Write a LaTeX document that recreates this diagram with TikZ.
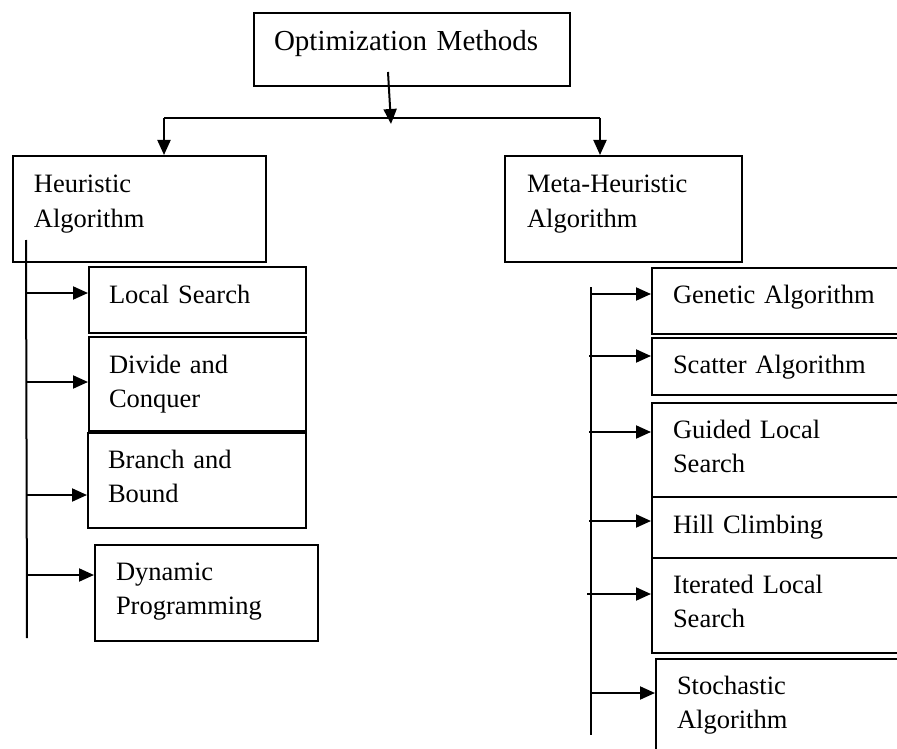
\documentclass[tikz,border=0pt]{standalone}
\usepackage{fontspec}
\setmainfont{Liberation Serif}
\usetikzlibrary{arrows.meta}
\begin{document}
\begin{tikzpicture}[x=1pt,y=-1pt,
  every node/.style={font=\fontsize{26.5}{34.5}\selectfont},
  box/.style={draw,line width=2pt,anchor=north west,inner ysep=0pt,align=left},
  ln/.style={line width=2pt},
  arr/.style={line width=2pt,-{Triangle[length=15pt,width=13pt]}}]
\path[use as bounding box,clip] (0,0) rectangle (897,749);
\fill[white] (0,0) rectangle (897,749);
% top
\node[box,inner xsep=20pt,text width=276pt,text height=38pt,text depth=35pt,
  font=\fontsize{29}{34}\selectfont] (top) at (253,12) {Optimization Methods};
% level 1
\node[box,inner xsep=21pt,text width=211pt,text height=37pt,text depth=69pt] (heur) at (12,155) {Heuristic\\Algorithm};
\node[box,inner xsep=22pt,text width=193pt,text height=37pt,text depth=69pt] (meta) at (504,155) {Meta-Heuristic\\Algorithm};
% left children
\node[box,inner xsep=20pt,text width=177pt,text height=36pt,text depth=30pt] (ls) at (88,266) {Local Search};
\node[box,inner xsep=20pt,text width=177pt,text height=36pt,text depth=58pt] (dc) at (88,336) {Divide and\\Conquer};
\node[box,inner xsep=20pt,text width=178pt,text height=35pt,text depth=60pt] (bb) at (87,432) {Branch and\\Bound};
\node[box,inner xsep=21pt,text width=181pt,text height=35pt,text depth=61pt] (dp) at (94,544) {Dynamic\\Programming};
% right children
\node[box,inner xsep=21pt,text width=267pt,text height=35pt,text depth=31pt] (ga) at (651,267) {Genetic Algorithm};
\node[box,inner xsep=21pt,text width=267pt,text height=35pt,text depth=22pt] (sa) at (651,337) {Scatter Algorithm};
\node[box,inner xsep=21pt,text width=267pt,text height=35pt,text depth=59pt] (gl) at (651,402) {Guided Local\\Search};
\node[box,inner xsep=21pt,text width=267pt,text height=36pt,text depth=25pt] (hc) at (651,496) {Hill Climbing};
\node[box,inner xsep=21pt,text width=267pt,text height=35pt,text depth=60pt] (il) at (651,557) {Iterated Local\\Search};
\node[box,inner xsep=21pt,text width=263pt,text height=35pt,text depth=87pt] (st) at (655,658) {Stochastic\\Algorithm};
% top connectors
\coordinate (t0) at (388,72);
\coordinate (t1) at (391,124);
\coordinate (jl) at (164,118);
\coordinate (jr) at (600,118);
\draw[arr] (t0) -- (t1);
\draw[ln] (jl) -- (jr);
\draw[arr] (jl) -- (jl |- heur.north);
\draw[arr] (jr) -- (jr |- meta.north);
% left tree
\coordinate (lt) at (26,240);
\coordinate (lb) at (27,638);
\draw[ln] (lt) -- (lb);
\coordinate (l1) at (26,293);
\coordinate (l2) at (26,382);
\coordinate (l3) at (26,495);
\coordinate (l4) at (27,575);
\draw[arr] (l1) -- (l1 -| ls.west);
\draw[arr] (l2) -- (l2 -| dc.west);
\draw[arr] (l3) -- (l3 -| bb.west);
\draw[arr] (l4) -- (l4 -| dp.west);
% right tree
\coordinate (rt) at (591,287);
\coordinate (rb) at (591,735);
\draw[ln] (rt) -- (rb);
\coordinate (r1) at (591,294);
\coordinate (r2) at (589,356);
\coordinate (r3) at (589,432);
\coordinate (r4) at (589,521);
\coordinate (r5) at (587,594);
\coordinate (r6) at (591,693);
\draw[arr] (r1) -- (r1 -| ga.west);
\draw[arr] (r2) -- (r2 -| sa.west);
\draw[arr] (r3) -- (r3 -| gl.west);
\draw[arr] (r4) -- (r4 -| hc.west);
\draw[arr] (r5) -- (r5 -| il.west);
\draw[arr] (r6) -- (r6 -| st.west);
\end{tikzpicture}
\end{document}
